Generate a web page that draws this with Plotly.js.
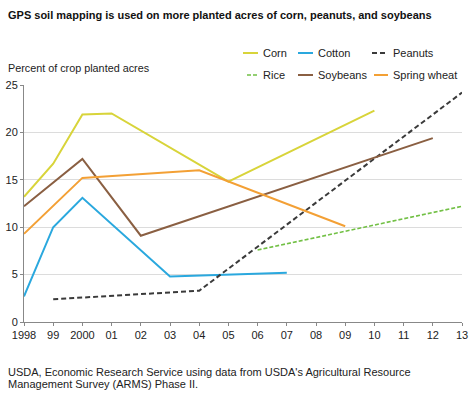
<!DOCTYPE html>
<html>
<head>
<meta charset="utf-8">
<script src="https://cdn.plot.ly/plotly-3.0.1.min.js"></script>
<style>html,body{margin:0;padding:0;background:#fff}#chart{width:474px;height:404px}</style>
</head>
<body>
<div id="chart"></div>
<script>
var cornYears = [1998, 1999, 2000, 2001, 2005, 2010];
var cornVals = [13.2, 16.7, 21.9, 22.0, 14.8, 22.3];
var cottonYears = [1998, 1999, 2000, 2003, 2007];
var cottonVals = [2.7, 10.0, 13.1, 4.8, 5.2];
var peanutsYears = [1999, 2004, 2013];
var peanutsVals = [2.4, 3.3, 24.2];
var riceYears = [2006, 2013];
var riceVals = [7.6, 12.2];
var soyYears = [1998, 2000, 2002, 2012];
var soyVals = [12.2, 17.2, 9.1, 19.4];
var wheatYears = [1998, 2000, 2004, 2009];
var wheatVals = [9.3, 15.2, 16.0, 10.1];
var tickYears = [1998,1999,2000,2001,2002,2003,2004,2005,2006,2007,2008,2009,2010,2011,2012,2013];
var tickLabels = ["1998","99","2000","01","02","03","04","05","06","07","08","09","10","11","12","13"];

var names = ["Corn","Cotton","Peanuts","Rice","Soybeans","Spring wheat"];
var colors = ["#d8d43a","#2aa8de","#3a3a3a","#72c045","#8a5f42","#f3a035"];
var dashes = ["solid","solid","5px,3px","4px,2px","solid","solid"];
var widths = [2,2,2,1.6,2,2];
var xs = [cornYears, cottonYears, peanutsYears, riceYears, soyYears, wheatYears];
var ys = [cornVals, cottonVals, peanutsVals, riceVals, soyVals, wheatVals];

var traces = names.map(function(n,i){
  return {x: xs[i], y: ys[i], type:'scatter', mode:'lines', name:n,
    line:{color:colors[i], width:widths[i], dash:dashes[i]}, showlegend:false, hoverinfo:'skip'};
});

var W = 474, H = 404, ml = 24, mr = 12, mt = 85, mb = 82;
function px(x){ return (x - ml) / (W - ml - mr); }
function py(y){ return (H - mb - y) / (H - mt - mb); }

var shapes = [], annotations = [];
var legX = [243, 298, 372, 247, 298, 374];
var legX2 = [258, 313, 388, 258, 313, 388];
var legY = [53, 53, 53, 75, 75, 75];
names.forEach(function(n,i){
  shapes.push({type:'line', xref:'paper', yref:'paper', x0:px(legX[i]), x1:px(legX2[i]), y0:py(legY[i]), y1:py(legY[i]),
    line:{color:colors[i], width:widths[i], dash:dashes[i]}});
  annotations.push({xref:'paper', yref:'paper', x:px(legX2[i]+3), y:py(legY[i]), xanchor:'left', yanchor:'middle',
    text:n, showarrow:false, font:{size:11, color:'#222'}});
});

annotations.push({xref:'paper', yref:'paper', x:px(6), y:py(15), xanchor:'left', yanchor:'middle',
  text:'<b>GPS soil mapping is used on more planted acres of corn, peanuts, and soybeans</b>', showarrow:false,
  font:{size:11, color:'#111'}});
annotations.push({xref:'paper', yref:'paper', x:px(6), y:py(68), xanchor:'left', yanchor:'middle',
  text:'Percent of crop planted acres', showarrow:false, font:{size:10.8, color:'#222'}});
annotations.push({xref:'paper', yref:'paper', x:px(6), y:py(372), xanchor:'left', yanchor:'middle',
  text:"USDA, Economic Research Service using data from USDA's Agricultural Resource", showarrow:false,
  font:{size:11, color:'#222'}});
annotations.push({xref:'paper', yref:'paper', x:px(6), y:py(384), xanchor:'left', yanchor:'middle',
  text:"Management Survey (ARMS) Phase II.", showarrow:false,
  font:{size:11, color:'#222'}});

var layout = {
  width: W, height: H,
  margin:{l:ml, r:mr, t:mt, b:mb, pad:0},
  paper_bgcolor:'#fff', plot_bgcolor:'#fff',
  font:{family:'"Liberation Sans", Arial, Helvetica, sans-serif', size:11, color:'#222'},
  showlegend:false,
  xaxis:{range:[1998,2013], tickvals:tickYears, ticktext:tickLabels, showgrid:false, zeroline:false,
    showline:true, linecolor:'#888', linewidth:1, ticks:'outside', ticklen:3, tickcolor:'#888',
    tickfont:{size:11, color:'#222'}, fixedrange:true},
  yaxis:{range:[0,25], dtick:5, tick0:0, showgrid:true, gridcolor:'#dcdcdc', gridwidth:1, zeroline:false,
    showline:true, linecolor:'#888', linewidth:1, ticks:'outside', ticklen:3, tickcolor:'#888',
    tickfont:{size:11, color:'#222'}, fixedrange:true},
  shapes: shapes,
  annotations: annotations
};
Plotly.newPlot('chart', traces, layout, {displayModeBar:false, staticPlot:true});
</script>
</body>
</html>
